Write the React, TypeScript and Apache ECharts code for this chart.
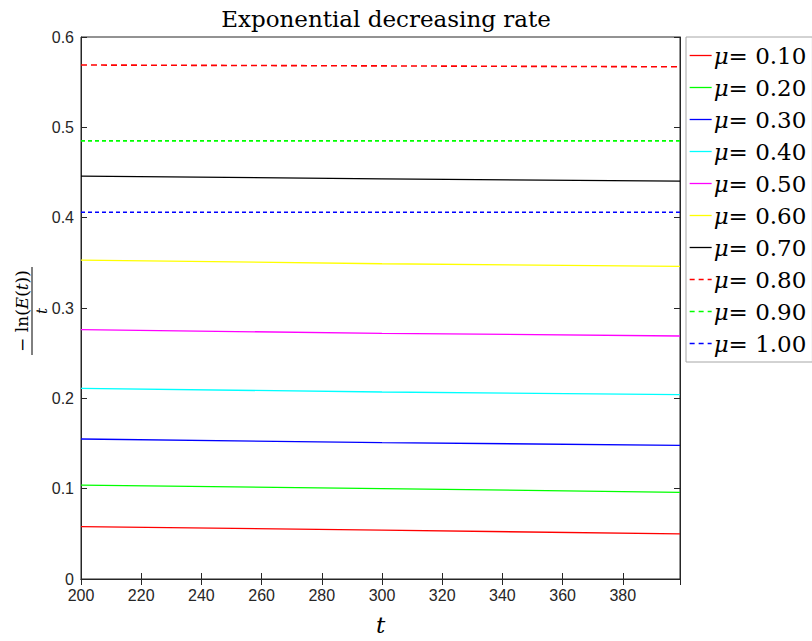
import React, { useEffect, useRef } from "react";
import * as echarts from "echarts";

const tValues = [200, 300, 399];
const muLabels = ["0.10", "0.20", "0.30", "0.40", "0.50", "0.60", "0.70", "0.80", "0.90", "1.00"];
const rate010 = [0.058, 0.054, 0.050];
const rate020 = [0.104, 0.100, 0.096];
const rate030 = [0.155, 0.151, 0.148];
const rate040 = [0.211, 0.207, 0.204];
const rate050 = [0.276, 0.272, 0.269];
const rate060 = [0.353, 0.349, 0.346];
const rate070 = [0.446, 0.443, 0.4405];
const rate080 = [0.569, 0.568, 0.567];
const rate090 = [0.485, 0.485, 0.485];
const rate100 = [0.406, 0.406, 0.406];
const allRates = [rate010, rate020, rate030, rate040, rate050, rate060, rate070, rate080, rate090, rate100];
const colors = ["#ff0000", "#00ff00", "#0000ff", "#00ffff", "#ff00ff", "#ffff00", "#000000", "#ff0000", "#00ff00", "#0000ff"];
const dashed = [false, false, false, false, false, false, false, true, true, true];

const serif = "'DejaVu Serif', 'Liberation Serif', serif";
const sans = "'Liberation Sans', Arial, sans-serif";
const axisColor = "#262626";

export default function App() {
  const ref = useRef<HTMLDivElement>(null);
  useEffect(() => {
    if (!ref.current) return;
    const chart = echarts.init(ref.current, null, { renderer: "svg" });
    const series = allRates.map((vals, i) => ({
      name: "μ= " + muLabels[i],
      type: "line",
      data: vals.map((v, j) => [tValues[j], v]),
      showSymbol: false,
      symbol: "none",
      color: colors[i],
      lineStyle: { color: colors[i], width: dashed[i] ? 1.6 : 1.3, type: dashed[i] ? (i === 7 ? [6, 4] : [4, 3]) : "solid" },
      itemStyle: { color: colors[i] },
      z: 3,
    }));
    const textRich = {
      m: { fontFamily: serif, fontStyle: "italic", fontSize: 23, lineHeight: 22, color: "#000" },
      n: { fontFamily: serif, fontSize: 23, lineHeight: 22, color: "#000" },
    };
    chart.setOption({
      animation: false,
      backgroundColor: "#ffffff",
      title: {
        text: "Exponential decreasing rate",
        left: 381,
        textAlign: "center",
        top: 2,
        textStyle: { fontFamily: serif, fontSize: 23, fontWeight: "normal", color: "#000" },
      },
      legend: {
        orient: "vertical",
        left: 686,
        top: 37,
        padding: [7, 6, 7, 3],
        itemGap: 9,
        itemWidth: 22,
        itemHeight: 12,
        borderColor: "#a6a6a6",
        borderWidth: 1,
        backgroundColor: "#fff",
        itemStyle: { opacity: 0 },
        data: series.map((s, i) => ({
          name: s.name,
          itemStyle: { opacity: 0 },
          lineStyle: { color: colors[i], width: 1.3, type: dashed[i] ? [5, 4] : "solid" },
        })),
        formatter: (name: string) => "{m|μ}{n|= " + name.replace("μ= ", "") + "}",
        textStyle: {
          fontFamily: serif,
          fontSize: 23,
          lineHeight: 22,
          color: "#000",
          padding: [0, 0, 0, -3],
          rich: textRich,
        },
      },
      grid: { left: 81, top: 37, width: 599, height: 548, show: true, borderColor: axisColor, borderWidth: 1, containLabel: false },
      xAxis: [
        {
          type: "value",
          min: 200,
          max: 399,
          interval: 20,
          axisLine: { show: true, lineStyle: { color: axisColor } },
          axisTick: { show: true, inside: true, length: 6, lineStyle: { color: axisColor } },
          axisLabel: { fontFamily: sans, fontSize: 16, color: axisColor, margin: 8, showMaxLabel: false },
          splitLine: { show: false },
          name: "t",
          nameLocation: "middle",
          nameGap: 34,
          nameTextStyle: { fontFamily: serif, fontStyle: "italic", fontSize: 23, color: "#000" },
        },
        {
          type: "value",
          position: "top",
          min: 200,
          max: 399,
          interval: 20,
          axisLine: { show: true, lineStyle: { color: axisColor } },
          axisTick: { show: true, inside: true, length: 6, lineStyle: { color: axisColor } },
          axisLabel: { show: false },
          splitLine: { show: false },
        },
      ],
      yAxis: [
        {
          type: "value",
          min: 0,
          max: 0.6,
          interval: 0.1,
          axisLine: { show: true, lineStyle: { color: axisColor } },
          axisTick: { show: true, inside: true, length: 6, lineStyle: { color: axisColor } },
          axisLabel: { fontFamily: sans, fontSize: 16, color: axisColor, margin: 7, formatter: (v: number) => (v === 0 ? "0" : v.toFixed(1)) },
          splitLine: { show: false },
        },
        {
          type: "value",
          position: "right",
          min: 0,
          max: 0.6,
          interval: 0.1,
          axisLine: { show: true, lineStyle: { color: axisColor } },
          axisTick: { show: true, inside: true, length: 6, lineStyle: { color: axisColor } },
          axisLabel: { show: false },
          splitLine: { show: false },
        },
      ],
      graphic: [
        {
          type: "group",
          x: 32,
          y: 311,
          rotation: Math.PI / 2,
          children: [
            {
              type: "text",
              x: 0,
              y: -2,
              style: {
                text: "{n|− ln(}{i|E}{n|(}{i|t}{n|))}",
                textAlign: "center",
                textVerticalAlign: "bottom",
                rich: {
                  n: { fontFamily: serif, fontSize: 17, fill: "#000" },
                  i: { fontFamily: serif, fontSize: 17, fontStyle: "italic", fill: "#000" },
                },
              },
            },
            { type: "line", shape: { x1: -44, y1: 0, x2: 44, y2: 0 }, style: { stroke: "#000", lineWidth: 1 } },
            {
              type: "text",
              x: 0,
              y: 2,
              style: { text: "t", textAlign: "center", textVerticalAlign: "top", fontFamily: serif, fontSize: 15, fontStyle: "italic", fill: "#000" },
            },
          ],
        },
      ],
      series,
    });
    return () => chart.dispose();
  }, []);
  return <div ref={ref} style={{ width: 812, height: 641, position: "absolute", left: 0, top: 0 }} />;
}
